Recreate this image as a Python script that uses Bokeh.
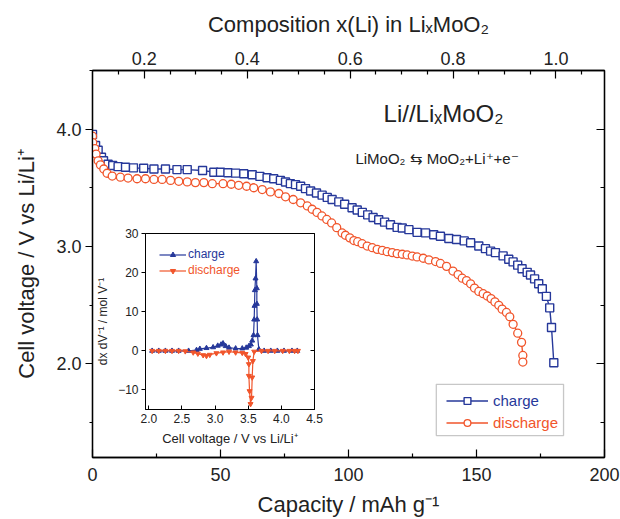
from bokeh.plotting import figure
from bokeh.models import (Range1d, LinearAxis, FixedTicker, PrintfTickFormatter,
                          CustomJSTickFormatter, Legend, LegendItem, Label, BoxAnnotation)
from bokeh.embed import file_html
from bokeh.resources import INLINE

FONT = "Liberation Sans"
BLUE = "#26389a"
RED = "#f1552b"

# ---------------- main chart data (capacity mAh/g, voltage V) ----------------
charge_cap = [0, 1.2, 2.2, 3.5, 4.3, 6.1, 7.9, 10, 12.9, 16, 20, 24, 28.5, 33, 37, 43,
              47.4, 50, 52.9, 55.9, 59.1, 62.4, 65.4, 68.2, 70.8, 73.4, 75.4, 77.3, 79.3,
              81.3, 83.2, 85.2, 87.5, 89.7, 91.7, 93.6, 96.2, 98.5, 101.4, 103.4, 105.4,
              107.5, 109.6, 111.8, 114.1, 116.4, 119, 121, 123.6, 126.8, 130.1, 133.3,
              135.9, 139.2, 142.2, 145.2, 147.7, 150.9, 153.5, 155.5, 157.4, 160.4, 162.6,
              164.3, 166.1, 167.8, 169.8, 171.1, 172.7, 174.3, 175.7, 177.3, 178.6, 179.3,
              180.2]
charge_v = [3.955, 3.86, 3.82, 3.76, 3.73, 3.70, 3.69, 3.68, 3.675, 3.67, 3.667, 3.66,
            3.66, 3.655, 3.655, 3.647, 3.633, 3.633, 3.628, 3.625, 3.619, 3.611, 3.597,
            3.586, 3.577, 3.563, 3.549, 3.535, 3.527, 3.513, 3.493, 3.473, 3.456, 3.437,
            3.418, 3.40, 3.38, 3.36, 3.33, 3.31, 3.29, 3.269, 3.246, 3.227, 3.207, 3.185,
            3.162, 3.157, 3.143, 3.12, 3.115, 3.10, 3.087, 3.067, 3.059, 3.047, 3.031,
            3.003, 2.981, 2.96, 2.947, 2.919, 2.89, 2.868, 2.84, 2.81, 2.779, 2.756, 2.723,
            2.681, 2.639, 2.574, 2.476, 2.308, 2.008]

discharge_cap = [0, 0.1, 0.9, 1.4, 2.2, 3.1, 4.4, 5.7, 7.7, 10.9, 13.9, 17.4, 20.7, 24,
                 27.2, 30.5, 33.7, 37, 40.2, 43.5, 46.8, 51, 54.2, 57.1, 60.2, 63, 66.3,
                 69.5, 72.8, 75.4, 78.4, 81.3, 83.9, 85.8, 87.7, 89.6, 91.5, 93.4, 95.4,
                 97.5, 98.8, 100.5, 102.1, 103.6, 105.3, 107.3, 109.3, 111.2, 113.2, 115.1,
                 117.1, 119, 121, 122.9, 124.9, 126.8, 129.2, 131.4, 134, 135.9, 138.3,
                 140.8, 142.8, 144.4, 146.1, 147.7, 149.2, 150.9, 152.6, 154.2, 155.7,
                 157.2, 158.7, 160, 161.7, 163, 164.3, 166.1, 167.6, 168.1, 168.1]
discharge_v = [3.94, 3.885, 3.834, 3.787, 3.73, 3.695, 3.66, 3.624, 3.60, 3.59, 3.583,
               3.577, 3.577, 3.571, 3.571, 3.563, 3.555, 3.55, 3.544, 3.544, 3.535, 3.535,
               3.53, 3.521, 3.513, 3.50, 3.485, 3.465, 3.451, 3.423, 3.40, 3.372, 3.345,
               3.317, 3.29, 3.26, 3.23, 3.20, 3.16, 3.115, 3.095, 3.073, 3.05, 3.04, 3.023,
               3.003, 2.989, 2.975, 2.966, 2.955, 2.947, 2.938, 2.933, 2.927, 2.918, 2.91,
               2.899, 2.885, 2.871, 2.855, 2.83, 2.79, 2.76, 2.729, 2.709, 2.681, 2.645,
               2.616, 2.597, 2.577, 2.555, 2.527, 2.498, 2.465, 2.437, 2.40, 2.336, 2.26,
               2.182, 2.07, 2.014]

cap_ticks = [0, 50, 100, 150, 200]
cap_minor = [25, 75, 125, 175]
v_ticks = [2.0, 3.0, 4.0]
v_minor = [1.5, 2.5, 3.5, 4.5]
comp_ticks = [0.2, 0.4, 0.6, 0.8, 1.0]
comp_minor = [0.15, 0.25, 0.3, 0.35, 0.45, 0.5, 0.55, 0.65, 0.7, 0.75, 0.85, 0.9, 0.95, 1.05]

# ---------------- inset data (voltage V, dx/dV) ----------------
in_charge_v = [2.05, 2.15, 2.25, 2.35, 2.45, 2.6, 2.72, 2.77, 2.87, 2.97, 3.04, 3.09, 3.12,
               3.16, 3.21, 3.31, 3.41, 3.47, 3.51, 3.54, 3.56, 3.58, 3.59, 3.595, 3.60,
               3.61, 3.62, 3.63, 3.63, 3.635, 3.64, 3.66, 3.74, 3.84, 3.94, 4.04, 4.16, 4.24]
in_charge_d = [0, 0, 0, 0, 0, 0, 0.2, 0.5, 0.7, 0.9, 1.3, 1.6, 1.9, 1.2, 0.8, 0.6, 0.6, 0.8,
               1.2, 1.6, 2.6, 4, 8, 11.5, 15.5, 18.5, 22.9, 16, 12, 8, 4, 0.4, 0, 0, 0, 0, 0, 0]
in_dis_v = [2.05, 2.15, 2.25, 2.35, 2.45, 2.55, 2.67, 2.74, 2.82, 2.87, 2.92, 3.02, 3.12,
            3.21, 3.31, 3.41, 3.46, 3.50, 3.51, 3.51, 3.52, 3.535, 3.55, 3.56, 3.57, 3.59,
            3.70, 3.80, 3.90, 4.02, 4.12, 4.20, 4.25]
in_dis_d = [0, 0, 0, 0, 0, -0.1, -0.4, -0.7, -1.1, -1.3, -1.0, -0.6, -0.4, -0.2, -0.4, -0.5,
            -0.8, -1.7, -3.4, -6.4, -10.3, -13.6, -12, -6.8, -2.6, -0.2, 0, 0, 0, 0, 0, 0, 0]
in_x_ticks = [2.0, 2.5, 3.0, 3.5, 4.0, 4.5]
in_y_ticks = [-10, 0, 10, 20, 30]

# ---------------- main figure ----------------
p = figure(width=620, height=519, x_range=Range1d(0, 200), y_range=Range1d(1.2, 4.5),
           output_backend="svg", toolbar_location=None,
           min_border_left=92, min_border_right=16, min_border_top=70, min_border_bottom=59,
           styles={"position": "absolute", "left": "0px", "top": "0px"})
p.extra_x_ranges = {"comp": Range1d(0.0993, 1.0943)}
p.grid.visible = False
p.outline_line_color = "black"
p.outline_line_width = 1.3
p.background_fill_color = "white"
p.border_fill_color = "white"


def style_axis(ax, tin, tout, label_size="18px"):
    ax.major_tick_in = tin
    ax.major_tick_out = tout
    ax.minor_tick_in = int(tin * 0.55)
    ax.minor_tick_out = int(tout * 0.55)
    ax.axis_line_color = "black"
    ax.axis_line_width = 1.3
    ax.major_tick_line_width = 1.2
    ax.minor_tick_line_width = 1.2
    ax.major_label_text_font = FONT
    ax.major_label_text_font_size = label_size
    ax.major_label_text_color = "#222222"
    ax.axis_label_text_font = FONT
    ax.axis_label_text_font_style = "normal"
    ax.axis_label_text_color = "#222222"


xa = p.xaxis[0]
xa.ticker = FixedTicker(ticks=cap_ticks, minor_ticks=cap_minor)
style_axis(xa, 8, 0)
xa.major_label_standoff = 10
xa.axis_label = "Capacity / mAh g⁻¹"
xa.axis_label_text_font_size = "22px"
xa.axis_label_standoff = 8

ya = p.yaxis[0]
ya.ticker = FixedTicker(ticks=v_ticks, minor_ticks=v_minor)
ya.formatter = PrintfTickFormatter(format="%.1f")
style_axis(ya, 0, 7)
ya.major_label_standoff = 4
ya.axis_label = "Cell voltage / V vs Li/Li⁺"
ya.axis_label_text_font_size = "22px"
ya.axis_label_standoff = 14

top = LinearAxis(x_range_name="comp",
                 ticker=FixedTicker(ticks=comp_ticks, minor_ticks=comp_minor),
                 formatter=PrintfTickFormatter(format="%.1f"))
style_axis(top, 8, 0)
top.major_label_standoff = 6
top.axis_label = "Composition x(Li) in LiₓMoO₂"
top.axis_label_text_font_size = "22px"
top.axis_label_standoff = 12
p.add_layout(top, "above")

right = LinearAxis(ticker=FixedTicker(ticks=v_ticks, minor_ticks=v_minor),
                   formatter=CustomJSTickFormatter(code="return ''"))
style_axis(right, 8, 0)
p.add_layout(right, "right")

cl = p.line(charge_cap, charge_v, line_color=BLUE, line_width=1.4)
cs = p.scatter(charge_cap, charge_v, marker="square", size=8, line_color=BLUE,
               fill_color="white", line_width=1.4)
dl = p.line(discharge_cap, discharge_v, line_color=RED, line_width=1.4)
ds = p.scatter(discharge_cap, discharge_v, marker="circle", size=8, line_color=RED,
               fill_color="white", line_width=1.3)

p.add_layout(Label(x=113.7, y=4.134, text="Li//LiₓMoO₂", text_font=FONT,
                   text_font_size="24px", text_color="#222222", text_baseline="alphabetic"))
p.add_layout(Label(x=102.7, y=3.748, text="LiMoO₂ ⇆ MoO₂+Li⁺+e⁻", text_font=FONT,
                   text_font_size="15px", text_color="#222222", text_baseline="alphabetic"))

p.add_layout(BoxAnnotation(left=134.3, right=184, bottom=1.387, top=1.824,
                           fill_color="white", fill_alpha=1.0, line_color="#444444",
                           line_width=1.3, level="overlay"))


def mk_legend(label, rends, color, loc, size, gw, gh, standoff):
    return Legend(items=[LegendItem(label=label, renderers=rends)], location=loc,
                  label_text_color=color, label_text_font=FONT, label_text_font_size=size,
                  border_line_color=None, background_fill_alpha=0, glyph_width=gw,
                  glyph_height=gh, label_height=gh, label_standoff=standoff, padding=0,
                  margin=0, spacing=0)


lg1 = mk_legend("charge", [cl, cs], BLUE, (354, 48), "15px", 42, 17, 5)
lg2 = mk_legend("discharge", [dl, ds], RED, (354, 26), "15px", 42, 17, 5)
p.add_layout(lg1)
p.add_layout(lg2)

# ---------------- inset figure ----------------
ins = figure(width=233, height=228, x_range=Range1d(1.95, 4.5), y_range=Range1d(-15, 30),
             output_backend="svg", toolbar_location=None,
             min_border_left=48, min_border_right=12, min_border_top=10, min_border_bottom=42,
             styles={"position": "absolute", "left": "93px", "top": "223px"})
ins.grid.visible = False
ins.background_fill_color = None
ins.border_fill_color = None
ins.outline_line_color = "black"
ins.outline_line_width = 1.0

ix = ins.xaxis[0]
ix.ticker = FixedTicker(ticks=in_x_ticks)
ix.formatter = PrintfTickFormatter(format="%.1f")
style_axis(ix, 4, 0, "12px")
ix.axis_line_width = 1.0
ix.major_tick_line_width = 1.0
ix.major_label_standoff = 4
ix.axis_label = "Cell voltage / V vs Li/Li⁺"
ix.axis_label_text_font_size = "13px"
ix.axis_label_standoff = 5

iy = ins.yaxis[0]
iy.ticker = FixedTicker(ticks=in_y_ticks)
style_axis(iy, 0, 4, "12px")
iy.axis_line_width = 1.0
iy.major_tick_line_width = 1.0
iy.major_label_standoff = 3
iy.axis_label = "dx dV⁻¹ / mol V⁻¹"
iy.axis_label_text_font_size = "12px"
iy.axis_label_standoff = 5

ir = LinearAxis(ticker=FixedTicker(ticks=in_y_ticks),
                formatter=CustomJSTickFormatter(code="return ''"))
style_axis(ir, 4, 0, "12px")
ir.axis_line_width = 1.0
ir.major_tick_line_width = 1.0
ins.add_layout(ir, "right")

icl = ins.line(in_charge_v, in_charge_d, line_color=BLUE, line_width=1.2)
ics = ins.scatter(in_charge_v, in_charge_d, marker="triangle", size=5, line_color=BLUE,
                  fill_color=BLUE)
idl = ins.line(in_dis_v, in_dis_d, line_color=RED, line_width=1.2)
ids = ins.scatter(in_dis_v, in_dis_d, marker="inverted_triangle", size=5, line_color=RED,
                  fill_color=RED)

ins.add_layout(mk_legend("charge", [icl, ics], BLUE, (14, 148), "12px", 27, 13, 2))
ins.add_layout(mk_legend("discharge", [idl, ids], RED, (14, 132), "12px", 27, 13, 2))

open("out.html", "w").write(file_html([p, ins], INLINE))
